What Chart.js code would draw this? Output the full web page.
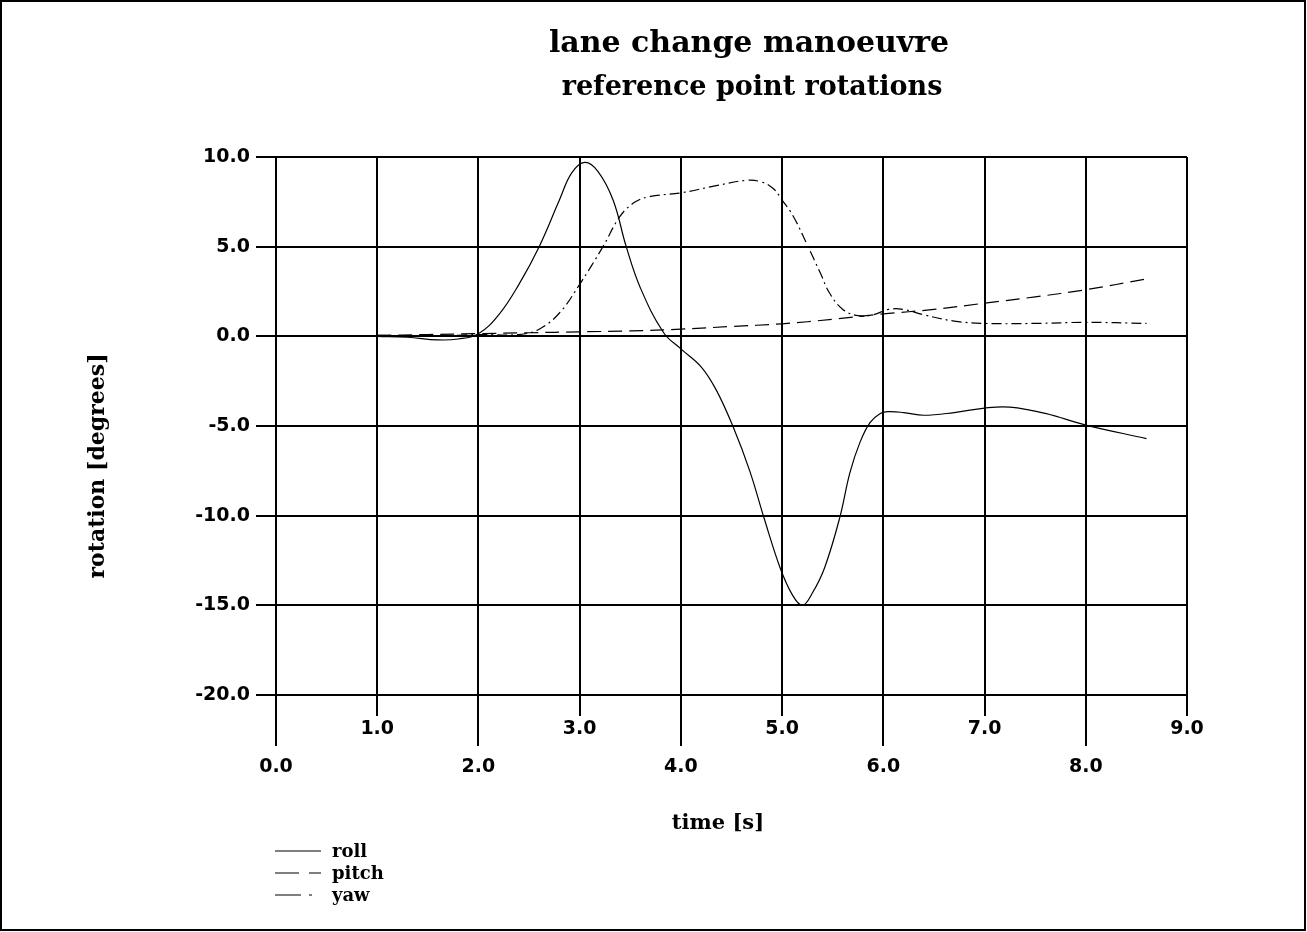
<!DOCTYPE html>
<html>
<head>
<meta charset="utf-8">
<title>lane change manoeuvre</title>
<script src="https://cdn.jsdelivr.net/npm/chart.js@4.4.1/dist/chart.umd.min.js"></script>
<style>
  html, body { margin: 0; padding: 0; background: #fff; }
  canvas { display: block; }
</style>
</head>
<body>
<canvas id="rotChart" width="1307" height="932"></canvas>
<script>
// values: time [s] and rotation [degrees]
const rollTime   = [1.0, 1.3, 1.6, 1.8, 2.0, 2.2, 2.4, 2.6, 2.8, 2.92, 3.05, 3.18, 3.33, 3.46, 3.6, 3.83, 4.0, 4.2, 4.35, 4.52, 4.68, 4.82, 4.98, 5.1, 5.2, 5.3, 5.42, 5.57, 5.67, 5.77, 5.87, 5.97, 6.05, 6.2, 6.4, 6.7, 7.0, 7.25, 7.6, 8.0, 8.6];
const rollValues = [0.0, -0.05, -0.2, -0.15, 0.15, 1.2, 2.9, 5.0, 7.6, 9.1, 9.7, 9.2, 7.6, 5.0, 2.7, 0.2, -0.7, -1.7, -3.0, -5.1, -7.5, -10.1, -12.9, -14.4, -15.0, -14.3, -12.9, -10.1, -7.6, -5.9, -4.8, -4.3, -4.2, -4.25, -4.4, -4.25, -4.0, -3.95, -4.3, -4.95, -5.7];

const pitchTime   = [1.0, 1.5, 2.0, 2.5, 3.0, 3.5, 4.0, 4.5, 5.0, 5.5, 6.0, 6.5, 7.0, 7.5, 8.0, 8.6];
const pitchValues = [0.05, 0.1, 0.15, 0.2, 0.25, 0.3, 0.4, 0.55, 0.7, 0.95, 1.25, 1.5, 1.85, 2.2, 2.6, 3.2];

const yawTime   = [1.0, 1.5, 2.0, 2.4, 2.6, 2.8, 3.0, 3.23, 3.4, 3.55, 3.7, 4.0, 4.35, 4.65, 4.8, 4.92, 5.0, 5.11, 5.24, 5.38, 5.47, 5.6, 5.75, 5.9, 6.05, 6.2, 6.4, 6.7, 7.0, 7.5, 8.0, 8.6];
const yawValues = [0.05, 0.0, 0.1, 0.1, 0.4, 1.3, 2.9, 5.0, 6.7, 7.5, 7.8, 8.0, 8.4, 8.7, 8.6, 8.2, 7.6, 6.7, 5.2, 3.5, 2.4, 1.5, 1.15, 1.2, 1.5, 1.5, 1.2, 0.85, 0.72, 0.72, 0.78, 0.72];

const seriesNames = ['roll', 'pitch', 'yaw'];
const titleLines = ['lane change manoeuvre', 'reference point rotations'];
const xTitle = 'time [s]';
const yTitle = 'rotation [degrees]';

// axis ranges / tick steps
const xRange = [0, 9, 1];
const yRange = [-20, 10, 5];

const toPoints = (t, v) => t.map((x, i) => ({ x: x, y: v[i] }));

const serif = "'DejaVu Serif', 'Liberation Serif', serif";
const tickFont = { family: "'DejaVu Sans', 'Liberation Sans', sans-serif", weight: 'bold', size: 19, lineHeight: 1 };

// white page + thin frame round the picture
const framePlugin = {
  id: 'frame',
  beforeDraw(chart) {
    const c = chart.ctx;
    c.save();
    c.fillStyle = '#fff';
    c.fillRect(0, 0, chart.width, chart.height);
    c.strokeStyle = '#000';
    c.lineWidth = 2;
    c.strokeRect(1, 1, chart.width - 3, chart.height - 3);
    c.restore();
  }
};

// titles, axis titles and the little legend at the bottom left
const textPlugin = {
  id: 'texts',
  afterDraw(chart) {
    const c = chart.ctx;
    c.save();
    c.fillStyle = '#000';
    c.textAlign = 'center';
    c.textBaseline = 'alphabetic';

    c.font = 'bold 30px ' + serif;
    c.fillText(titleLines[0], 749, 52);
    c.font = 'bold 27px ' + serif;
    c.fillText(titleLines[1], 752, 95);

    c.font = 'bold 21px ' + serif;
    c.fillText(xTitle, 718, 829);

    c.save();
    c.translate(104, 466);
    c.rotate(-Math.PI / 2);
    c.font = 'bold 22px ' + serif;
    c.fillText(yTitle, 0, 0);
    c.restore();

    // legend
    c.textAlign = 'left';
    c.font = 'bold 18px ' + serif;
    chart.data.datasets.forEach((ds, i) => {
      const y = 851 + i * 22;
      c.save();
      c.strokeStyle = '#000';
      c.lineWidth = 1.2;
      c.setLineDash(ds.legendDash);
      c.beginPath();
      c.moveTo(275, y);
      c.lineTo(321, y);
      c.stroke();
      c.restore();
      c.fillText(ds.label, 332, y + 6);
    });
    c.restore();
  }
};

const ctx = document.getElementById('rotChart');

const datasets = [
  { label: seriesNames[0], data: toPoints(rollTime, rollValues), borderDash: [], legendDash: [] },
  { label: seriesNames[1], data: toPoints(pitchTime, pitchValues), borderDash: [14, 7], legendDash: [24, 10] },
  { label: seriesNames[2], data: toPoints(yawTime, yawValues), borderDash: [10, 4, 2, 4], legendDash: [26, 8, 3, 100] }
].map(ds => Object.assign({
  borderColor: '#000',
  borderWidth: 1.2,
  pointRadius: 0,
  fill: false,
  tension: 0.4
}, ds));

const myChart = new Chart(ctx, {
  type: 'line',
  data: { datasets: datasets },
  options: {
    responsive: false,
    animation: false,
    devicePixelRatio: 1,
    layout: { padding: { left: 0, top: 157, right: 120, bottom: 137 } },
    plugins: {
      legend: { display: false },
      title: { display: false },
      tooltip: { enabled: false }
    },
    scales: {
      x: {
        type: 'linear',
        min: xRange[0],
        max: xRange[1],
        afterFit(scale) { scale.height = 100; },
        border: { color: '#000', width: 2 },
        grid: {
          color: '#000',
          lineWidth: 2,
          tickLength: 51,
          tickColor: '#000',
          tickWidth: 2,
          // odd ticks are short, even ones run down to the lower label row
          tickBorderDash: (c) => (c.tick && Math.round(c.tick.value) % 2 === 1) ? [20, 200] : []
        },
        ticks: {
          stepSize: xRange[2],
          color: '#000',
          font: tickFont,
          padding: -26.5,
          maxRotation: 0,
          autoSkip: false,
          callback: (v) => Math.round(v) % 2 === 1 ? [v.toFixed(1)] : ['', '', v.toFixed(1)]
        }
      },
      y: {
        min: yRange[0],
        max: yRange[1],
        afterFit(scale) { scale.width = 276; },
        border: { color: '#000', width: 2 },
        grid: {
          color: '#000',
          lineWidth: 2,
          tickLength: 20,
          tickColor: '#000',
          tickWidth: 2
        },
        ticks: {
          stepSize: yRange[2],
          color: '#000',
          font: tickFont,
          padding: 6,
          callback: (v) => v.toFixed(1)
        }
      }
    }
  },
  plugins: [framePlugin, textPlugin]
});
</script>
</body>
</html>
